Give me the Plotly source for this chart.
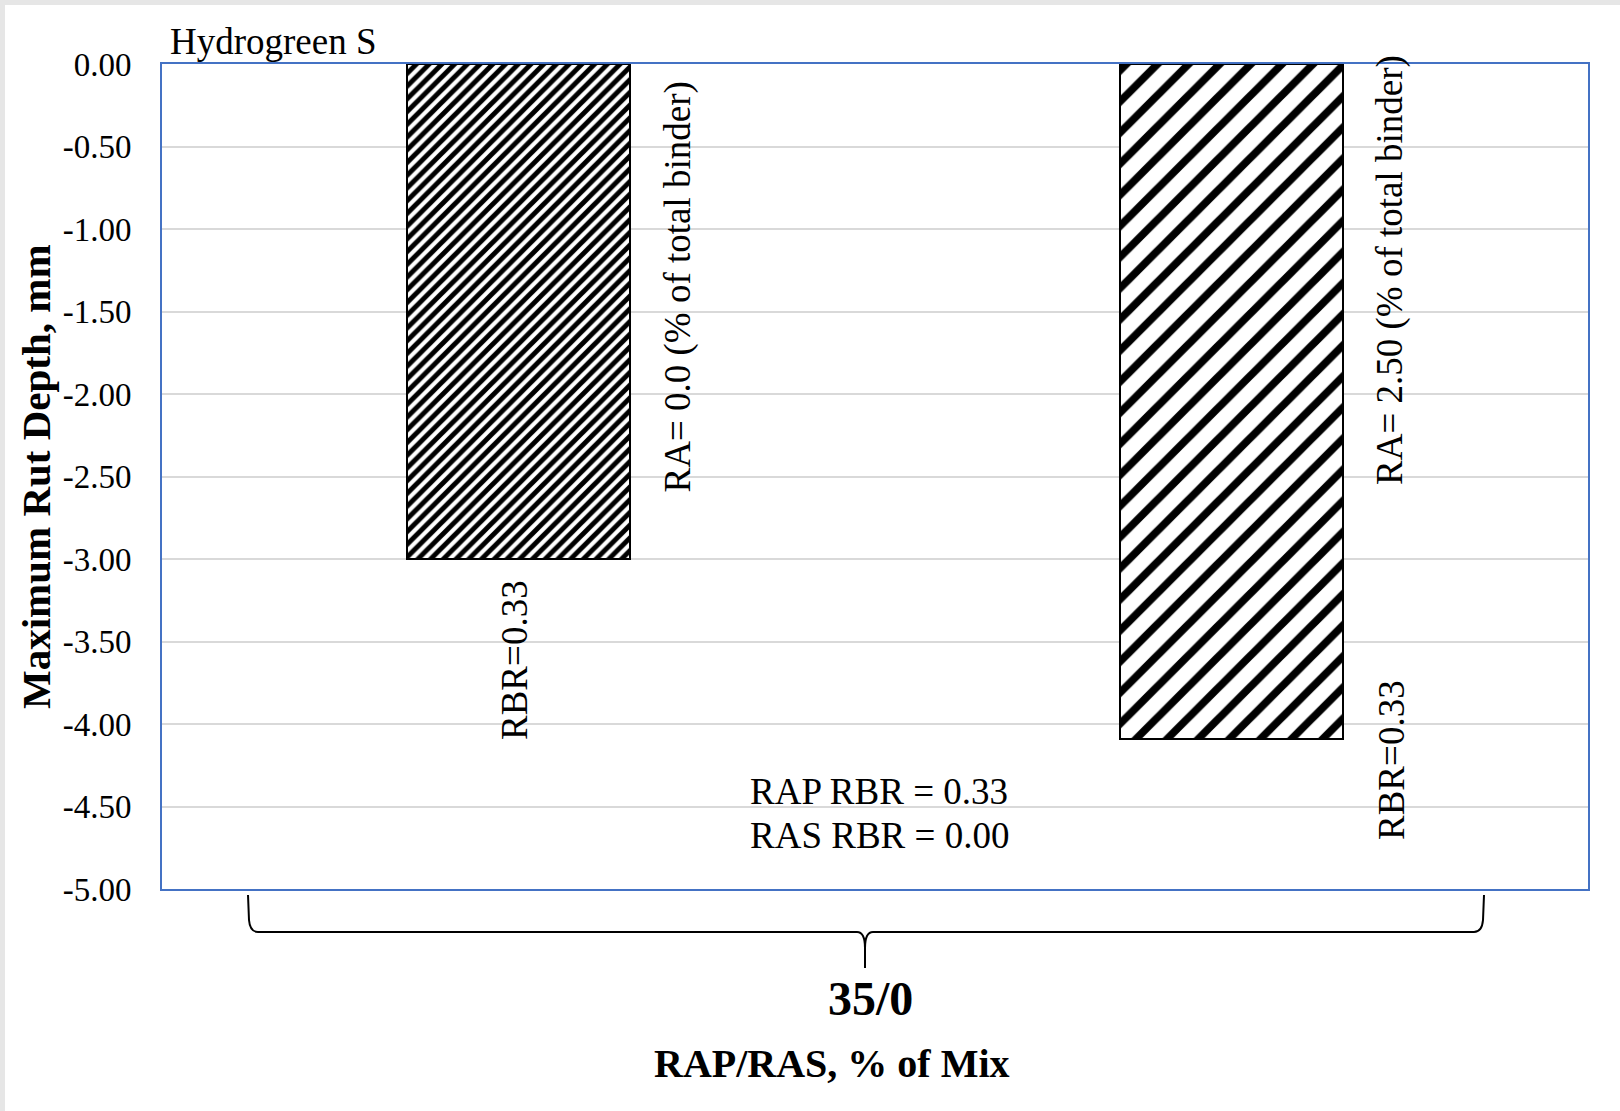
import plotly.graph_objects as go

# ---- data ----
categories = ["RA 0.0", "RA 2.50"]
rut_depth = [-3.00, -4.09]
ra_labels = ["RA= 0.0 (% of total binder)", "RA= 2.50 (% of total binder)"]
rbr_labels = ["RBR=0.33", "RBR=0.33"]
binder_label = "Hydrogreen S"
group_label = "35/0"
rbr_note = ["RAP RBR = 0.33", "RAS RBR = 0.00"]
y_ticks = [0.0, -0.5, -1.0, -1.5, -2.0, -2.5, -3.0, -3.5, -4.0, -4.5, -5.0]

W, H = 1620, 1111
L, R, T, B = 162, 32, 64, 222
PW, PH = W - L - R, H - T - B
SERIF = "Liberation Serif"


def px(x):
    return (x - L) / PW


def py(y):
    return (H - B - y) / PH


fig = go.Figure()

patterns = [
    dict(shape="/", size=9, solidity=0.55, fgcolor="black", bgcolor="white", fillmode="replace"),
    dict(shape="/", size=22, solidity=0.35, fgcolor="black", bgcolor="white", fillmode="replace"),
]

for i, (cat, val) in enumerate(zip(categories, rut_depth)):
    fig.add_trace(go.Bar(
        x=[i], y=[val], name=cat, width=0.313,
        marker=dict(color="white", pattern=patterns[i],
                    line=dict(color="black", width=2)),
        showlegend=False, hoverinfo="skip",
    ))

fig.update_xaxes(range=[-0.5, 1.5], showgrid=False, zeroline=False,
                 showticklabels=False, showline=True, mirror=True,
                 linecolor="#4472c4", linewidth=2)
fig.update_yaxes(range=[-5, 0], tickvals=y_ticks,
                 ticktext=[f"{v:.2f}" for v in y_ticks],
                 showgrid=True, gridcolor="#d9d9d9", gridwidth=2,
                 zeroline=False, showline=True, mirror=True,
                 linecolor="#4472c4", linewidth=2,
                 ticklabelstandoff=22,
                 tickfont=dict(family=SERIF, size=33, color="black"))

ann = []
txt = dict(family=SERIF, size=37, color="black")
bold = dict(family=SERIF, color="black", weight="bold")

ann.append(dict(x=px(168), y=py(41), xref="paper", yref="paper",
                text=binder_label, showarrow=False, xanchor="left",
                yanchor="middle", font=txt))

# rotated labels beside and below each bar
ra_pos = [(677, 495), (1390, 487)]
rbr_pos = [(514, 578), (1391, 678)]
for i in range(2):
    ann.append(dict(x=px(ra_pos[i][0]), y=py(ra_pos[i][1]), xref="paper", yref="paper",
                    text=ra_labels[i], textangle=-90, showarrow=False,
                    xanchor="center", yanchor="bottom", font=txt))
    ann.append(dict(x=px(rbr_pos[i][0]), y=py(rbr_pos[i][1]), xref="paper", yref="paper",
                    text=rbr_labels[i], textangle=-90, showarrow=False,
                    xanchor="center", yanchor="top", font=txt))

for j, line in enumerate(rbr_note):
    ann.append(dict(x=px(879), y=py(791 + 44 * j), xref="paper", yref="paper",
                    text=line, showarrow=False, xanchor="center",
                    yanchor="middle", font=txt))

ann.append(dict(x=px(36), y=py(477), xref="paper", yref="paper",
                text="Maximum Rut Depth, mm", textangle=-90, showarrow=False,
                xanchor="center", yanchor="middle", font=dict(size=41, **bold)))
ann.append(dict(x=px(870), y=py(998), xref="paper", yref="paper",
                text=group_label, showarrow=False, xanchor="center",
                yanchor="middle", font=dict(size=48, **bold)))
ann.append(dict(x=px(832), y=py(1063), xref="paper", yref="paper",
                text="RAP/RAS, % of Mix", showarrow=False, xanchor="center",
                yanchor="middle", font=dict(size=40, **bold)))


def P(x, y):
    return f"{px(x):.5f},{py(y):.5f}"


# curly brace grouping the two bars
brace = (
    f"M{P(248, 895)} L{P(249, 920)} Q{P(250, 932)} {P(258, 932)}"
    f" L{P(857, 932)} Q{P(865, 932)} {P(865, 948)} L{P(865, 968)}"
    f" M{P(865, 948)} Q{P(865, 932)} {P(873, 932)}"
    f" L{P(1474, 932)} Q{P(1482, 932)} {P(1483, 920)} L{P(1484, 895)}"
)
shapes = [
    dict(type="path", path=brace, xref="paper", yref="paper",
         line=dict(color="black", width=2)),
    dict(type="rect", xref="paper", yref="paper", x0=px(0), x1=px(W),
         y0=py(0), y1=py(5), fillcolor="#e6e6e6", line=dict(width=0)),
    dict(type="rect", xref="paper", yref="paper", x0=px(0), x1=px(5),
         y0=py(0), y1=py(H), fillcolor="#e6e6e6", line=dict(width=0)),
]

fig.update_layout(
    width=W, height=H, autosize=False,
    margin=dict(l=L, r=R, t=T, b=B, pad=0),
    paper_bgcolor="white", plot_bgcolor="white",
    barmode="overlay", bargap=0,
    annotations=ann, shapes=shapes,
    font=dict(family=SERIF, color="black"),
)

fig.write_html("out.html")
